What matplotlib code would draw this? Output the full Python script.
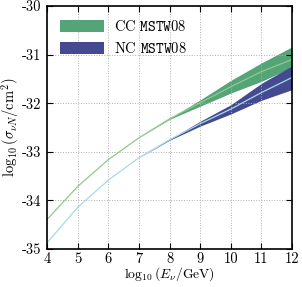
import matplotlib
matplotlib.use("Agg")
import matplotlib.pyplot as plt
import numpy as np
from matplotlib.patches import Patch

# log10(E/GeV)
log_e = [4, 5, 6, 7, 8, 9, 10, 11, 12]

# CC cross-section: central, upper, lower
cc_mid = [-34.39, -33.71, -33.16, -32.71, -32.32, -31.99, -31.66, -31.35, -31.10]
cc_up = [-34.39, -33.71, -33.16, -32.71, -32.31, -31.93, -31.53, -31.17, -30.84]
cc_lo = [-34.39, -33.71, -33.16, -32.71, -32.33, -32.06, -31.79, -31.55, -31.26]

# NC cross-section
nc_mid = [-34.87, -34.14, -33.58, -33.12, -32.75, -32.42, -32.12, -31.78, -31.47]
nc_up = [-34.87, -34.14, -33.58, -33.12, -32.74, -32.37, -32.03, -31.59, -31.23]
nc_lo = [-34.87, -34.14, -33.58, -33.12, -32.76, -32.47, -32.22, -31.94, -31.72]

x_ticks = [4, 5, 6, 7, 8, 9, 10, 11, 12]
y_ticks = [-35, -34, -33, -32, -31, -30]

plt.rcParams['font.family'] = 'cmr10'
plt.rcParams['mathtext.fontset'] = 'cm'
plt.rcParams['axes.unicode_minus'] = False
plt.rcParams['font.size'] = 10.5

fig = plt.figure(figsize=(3.02, 2.87), dpi=100)
ax = fig.add_axes([0.156, 0.132, 0.811, 0.847])

cc_band = '#55a478'
nc_band = '#454a90'
ax.fill_between(log_e, cc_lo, cc_up, color=cc_band, lw=0)
ax.fill_between(log_e, nc_lo, nc_up, color=nc_band, lw=0)
ax.plot(log_e, cc_mid, color='#90c98c', lw=0.9)
ax.plot(log_e, nc_mid, color='#a8d8ea', lw=0.9)

ax.set_xlim(4, 12)
ax.set_ylim(-35, -30)
ax.set_xticks(x_ticks)
ax.set_yticks(y_ticks)
ax.set_xticklabels([str(t) for t in x_ticks])
ax.set_yticklabels([str(t) for t in y_ticks])
ax.tick_params(direction='in', length=4, width=0.8, top=True, right=True, pad=4)
ax.tick_params(axis='x', pad=2.5)
ax.grid(True, ls=':', color='#b0b0b0', lw=0.7)
for s in ax.spines.values():
    s.set_linewidth(1.2)

ax.set_xlabel(r'$\log_{10}(E_\nu/\mathrm{GeV})$', labelpad=-1, fontsize=9.8)
ax.set_ylabel(r'$\log_{10}(\sigma_{\nu N}/\mathrm{cm}^2)$', labelpad=1)

handles = [Patch(color=cc_band, lw=0), Patch(color=nc_band, lw=0)]
ax.legend(handles, [r'CC $\mathtt{MSTW08}$', r'NC $\mathtt{MSTW08}$'],
          loc='upper left', frameon=False, handlelength=3.0, handleheight=0.9,
          handletextpad=0.7, labelspacing=0.45, borderaxespad=0.5, fontsize=10.5)

fig.savefig('out.png', dpi=100)
